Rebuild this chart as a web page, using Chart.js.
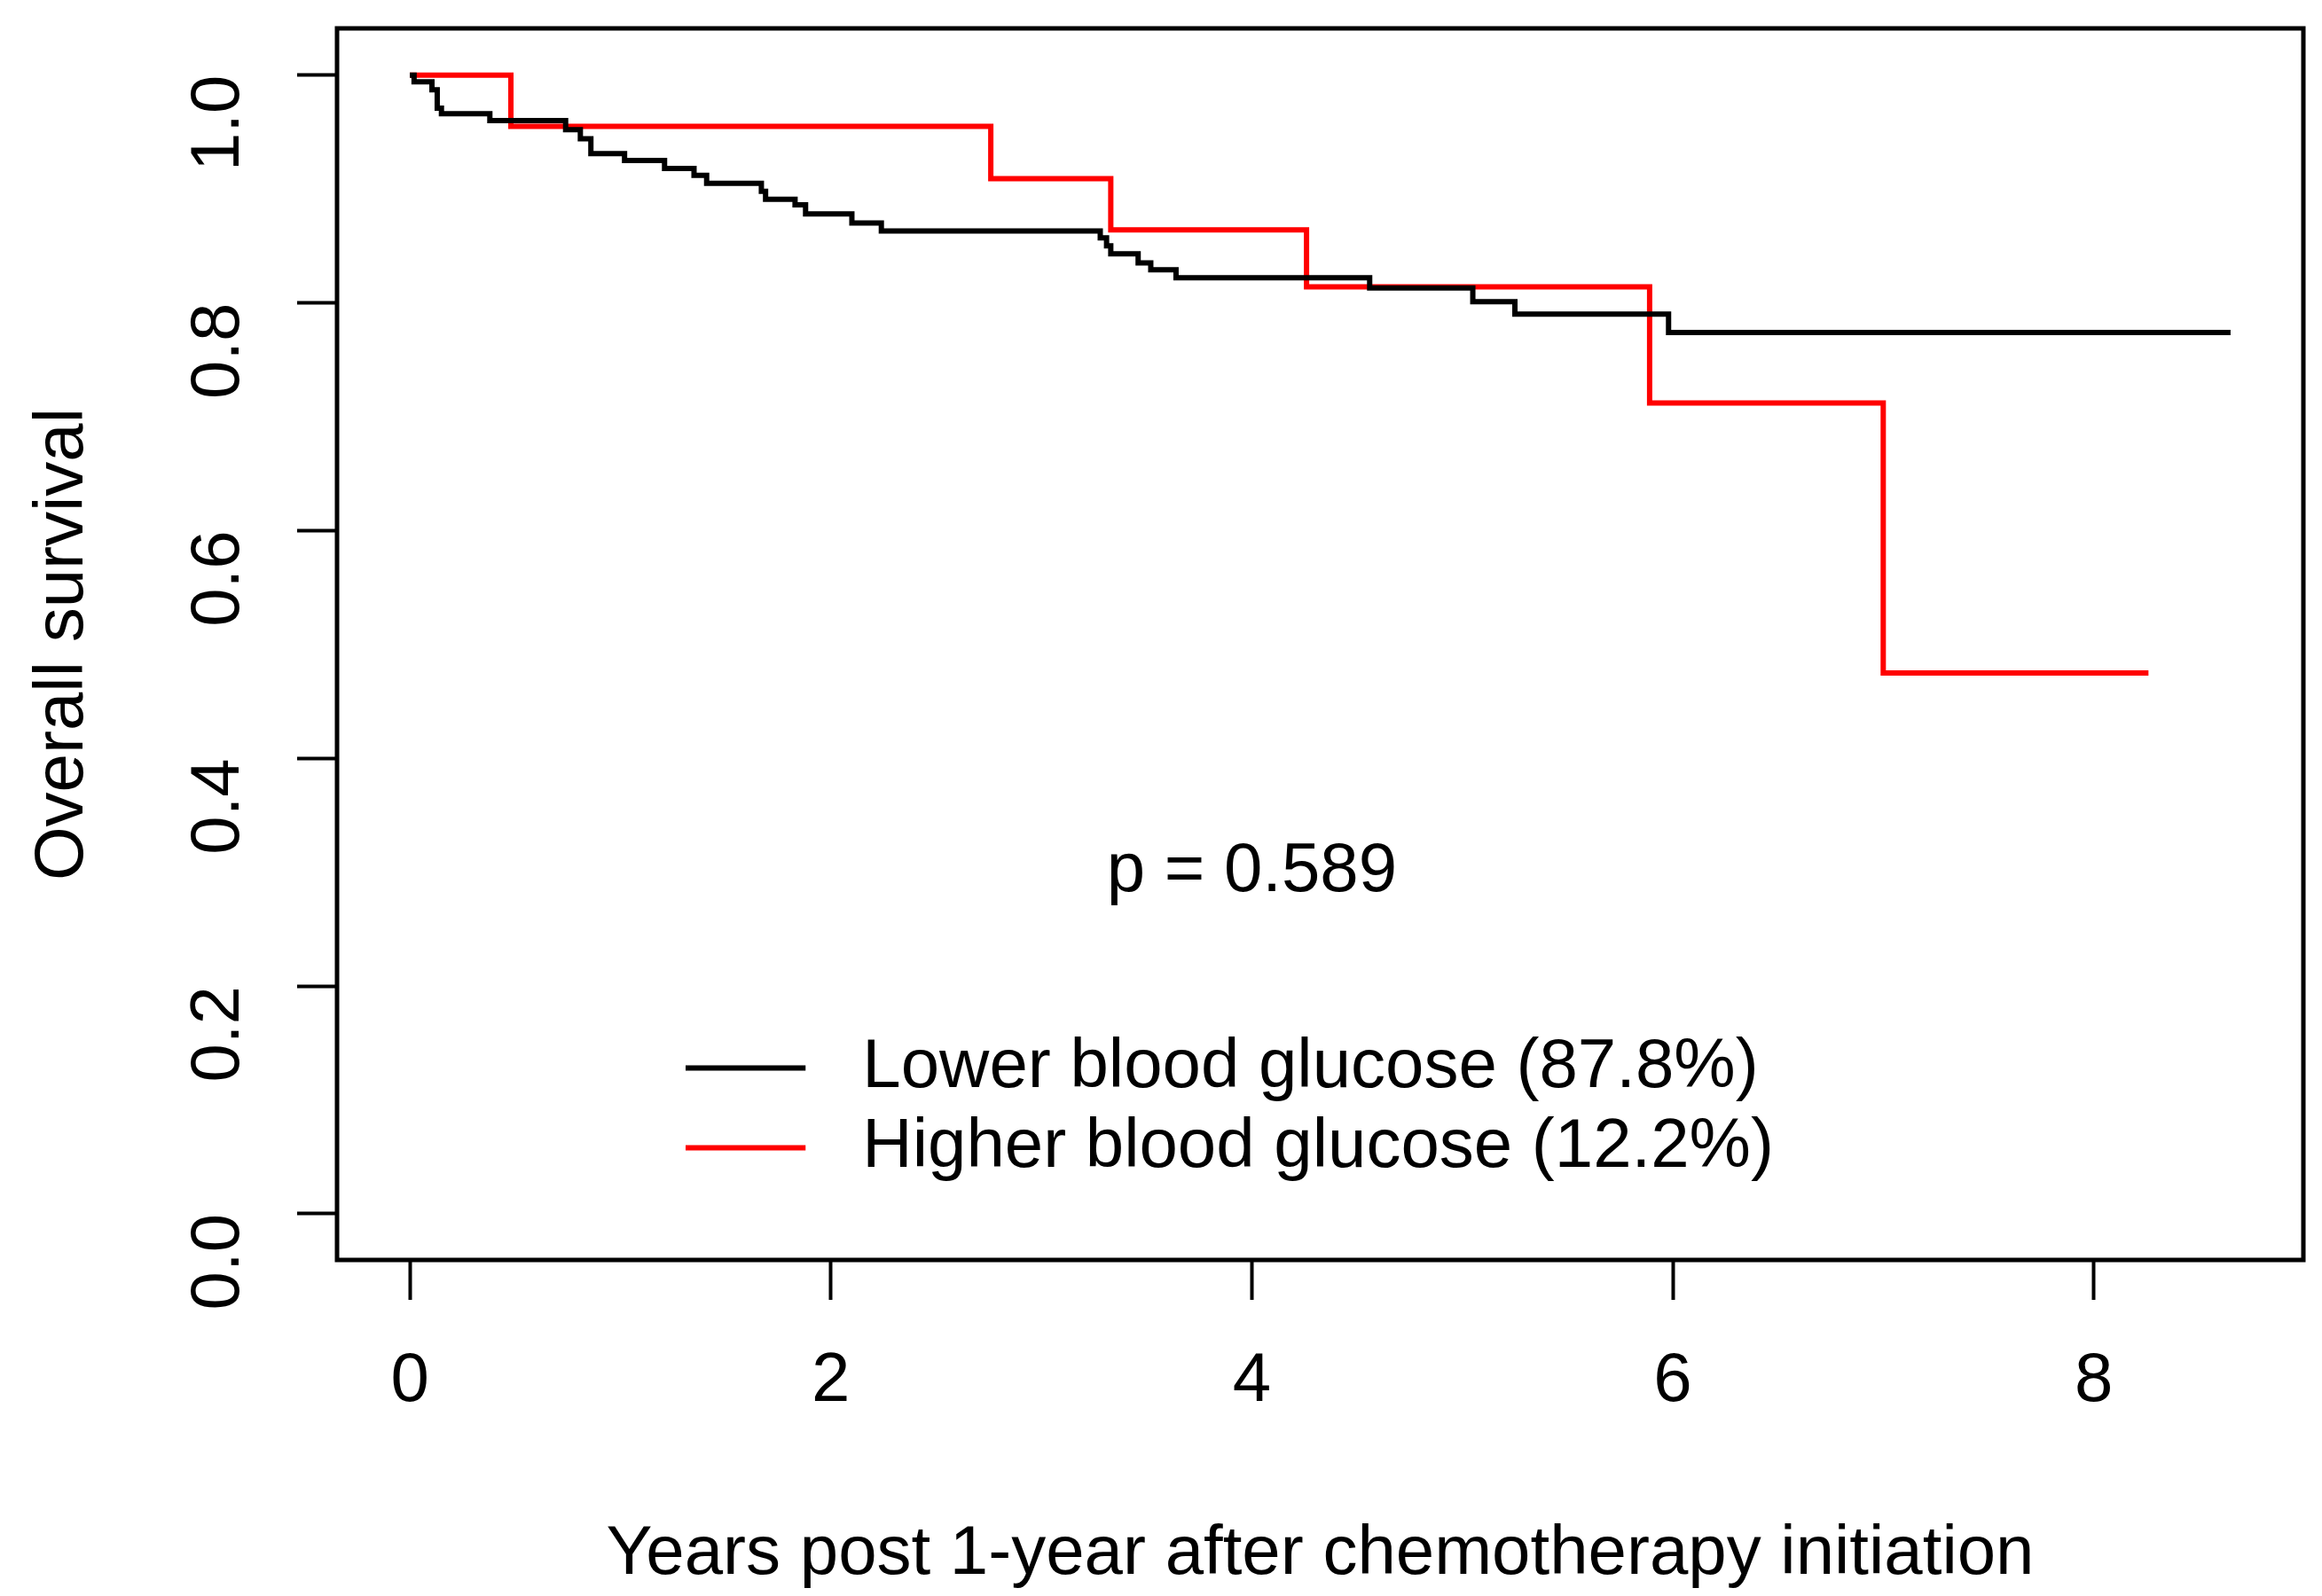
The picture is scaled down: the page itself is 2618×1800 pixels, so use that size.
<!DOCTYPE html>
<html>
<head>
<meta charset="utf-8">
<script src="https://cdn.jsdelivr.net/npm/chart.js@4"></script>
<style>
  html, body { margin: 0; padding: 0; background: #fff; }
  #wrap { width: 2618px; height: 1800px; }
</style>
</head>
<body>
<div id="wrap"><canvas id="km"></canvas></div>
<script>
// Kaplan-Meier steps (time in years, survival after the drop)
const lowerTime = [0, 0.02, 0.105, 0.13, 0.15, 0.38, 0.74, 0.81, 0.86, 1.02, 1.21, 1.35, 1.41, 1.67, 1.69, 1.83, 1.88, 2.10, 2.24, 3.28, 3.31, 3.33, 3.46, 3.52, 3.64, 4.56, 5.05, 5.25, 5.98, 8.65];
const lowerSurv = [1, 0.994, 0.987, 0.971, 0.966, 0.960, 0.952, 0.944, 0.931, 0.925, 0.918, 0.912, 0.905, 0.898, 0.891, 0.886, 0.878, 0.870, 0.863, 0.857, 0.850, 0.843, 0.835, 0.829, 0.822, 0.813, 0.801, 0.790, 0.774, 0.774];
const higherTime = [0, 0.48, 2.76, 3.33, 4.26, 5.89, 7.0, 8.26];
const higherSurv = [1, 0.955, 0.909, 0.864, 0.814, 0.712, 0.475, 0.475];

const seriesLabels = ["Lower blood glucose (87.8%)", "Higher blood glucose (12.2%)"];
const xTicks = [0, 2, 4, 6, 8];
const yTicks = [0, 0.2, 0.4, 0.6, 0.8, 1.0];
const pText = "p = 0.589";

const FONT = "'Liberation Sans', Arial, sans-serif";
const FS = 78;

function pts(t, s) {
  return t.map((v, i) => ({ x: v, y: s[i] }));
}

// box around the plot area + p value + legend, placed in data units
const extras = {
  id: "extras",
  afterDraw(chart) {
    const { ctx, chartArea: a, scales } = chart;
    const xs = scales.x, ys = scales.y;
    ctx.save();
    ctx.strokeStyle = "#000";
    ctx.lineWidth = 5;
    ctx.strokeRect(a.left, a.top, a.right - a.left, a.bottom - a.top);

    ctx.fillStyle = "#000";
    ctx.font = `${FS}px ${FONT}`;
    ctx.textAlign = "center";
    ctx.textBaseline = "middle";
    ctx.fillText(pText, xs.getPixelForValue(4), ys.getPixelForValue(0.3));

    // legend
    const ly = [ys.getPixelForValue(0.128), ys.getPixelForValue(0.058)];
    const lx0 = xs.getPixelForValue(1.31), lx1 = xs.getPixelForValue(1.88), tx = xs.getPixelForValue(2.15);
    chart.data.datasets.forEach((ds, i) => {
      ctx.strokeStyle = ds.borderColor;
      ctx.lineWidth = ds.borderWidth;
      ctx.beginPath();
      ctx.moveTo(lx0, ly[i]);
      ctx.lineTo(lx1, ly[i]);
      ctx.stroke();
      ctx.textAlign = "left";
      ctx.fillStyle = "#000";
      ctx.fillText(ds.label, tx, ly[i]);
    });
    ctx.restore();
  }
};

new Chart(document.getElementById("km"), {
  type: "scatter",
  data: {
    datasets: [
      { label: seriesLabels[0], data: pts(lowerTime, lowerSurv), showLine: true, stepped: "before",
        borderColor: "#000000", borderWidth: 6, pointRadius: 0 },
      { label: seriesLabels[1], data: pts(higherTime, higherSurv), showLine: true, stepped: "before",
        borderColor: "#ff0000", borderWidth: 6, pointRadius: 0 }
    ]
  },
  options: {
    responsive: true,
    maintainAspectRatio: false,
    animation: false,
    devicePixelRatio: 1,
    layout: { padding: { top: 32, right: 21, left: 0, bottom: 0 } },
    plugins: { legend: { display: false }, tooltip: { enabled: false } },
    scales: {
      x: {
        type: "linear",
        min: -0.346, max: 8.996,
        afterBuildTicks: (s) => { s.ticks = xTicks.map(v => ({ value: v })); },
        afterFit: (s) => { s.height = 379; s.paddingLeft = 0; s.paddingRight = 0; },
        grid: { drawOnChartArea: false, drawTicks: true, tickLength: 45, tickWidth: 4, tickColor: "#000" },
        border: { display: false },
        ticks: { color: "#000", font: { family: FONT, size: FS }, padding: 46, maxRotation: 0, autoSkip: false,
                 callback: (v) => String(v) },
        title: { display: true, text: "Years post 1-year after chemotherapy initiation", color: "#000",
                 font: { family: FONT, size: FS }, padding: { top: 24, bottom: 0 } }
      },
      y: {
        type: "linear",
        min: -0.0405, max: 1.041,
        afterBuildTicks: (s) => { s.ticks = yTicks.map(v => ({ value: v })); },
        afterFit: (s) => { s.width = 380; s.paddingTop = 0; s.paddingBottom = 0; },
        grid: { drawOnChartArea: false, drawTicks: true, tickLength: 45, tickWidth: 4, tickColor: "#000" },
        border: { display: false },
        ticks: { color: "#000", font: { family: FONT, size: FS }, padding: 88, minRotation: 90, maxRotation: 90,
                 autoSkip: false, callback: (v) => Number(v).toFixed(1) },
        title: { display: true, text: "Overall survival", color: "#000",
                 font: { family: FONT, size: FS }, padding: { top: 25, bottom: 0 } }
      }
    }
  },
  plugins: [extras]
});
</script>
</body>
</html>
